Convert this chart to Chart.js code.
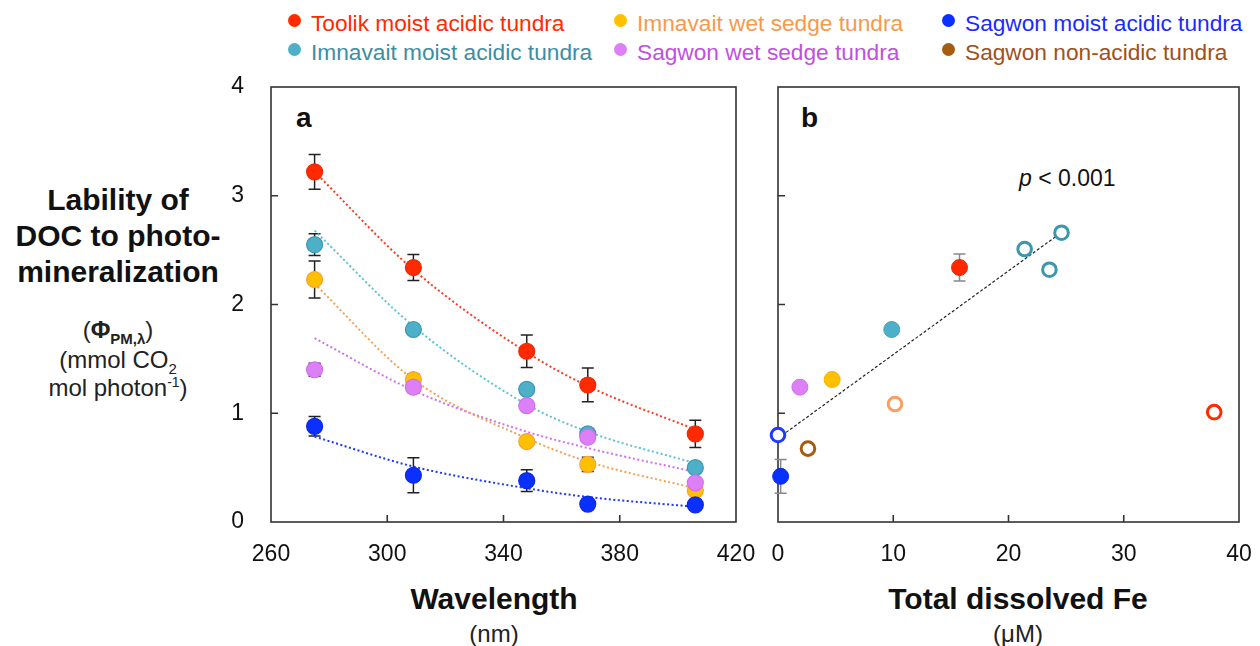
<!DOCTYPE html>
<html lang="en">
<head>
    <meta charset="UTF-8">
    <title>Lability of DOC to photo-mineralization</title>
    <script src="https://cdn.jsdelivr.net/npm/chart.js"></script>
    <style>
        body {
            margin: 0;
            width: 1260px;
            height: 646px;
            background: #fff;
            position: relative;
            overflow: hidden;
            font-family: "Liberation Sans", Arial, Helvetica, sans-serif;
            color: #111;
        }
        .abs { position: absolute; }
        .leg { position: absolute; font-size: 22.7px; white-space: nowrap; line-height: 24px; }
        .leg .dot {
            position: absolute; left: -23px; top: 2.5px;
            width: 13px; height: 13px; border-radius: 50%;
        }
        .ytitle { position: absolute; left: -2px; width: 240px; text-align: center; white-space: nowrap; }
        .ytitle.big { font-weight: bold; font-size: 30px; line-height: 36px; }
        .ytitle.small { font-size: 24px; line-height: 28px; color: #222; }
        .sub { font-size: 15px; position: relative; top: 6px; }
        .sup { font-size: 14px; position: relative; top: -9px; }
        .xtitle { position: absolute; text-align: center; width: 400px; white-space: nowrap; }
        .xtitle.big { font-weight: bold; font-size: 30px; line-height: 34px; }
        .xtitle.small { font-size: 24px; line-height: 28px; color: #222; }
        .panel { position: absolute; font-weight: bold; font-size: 28px; line-height: 30px; }
    </style>
</head>
<body>

<div class="leg" style="left:311px; top:11px; color:#ff2a00;"><span class="dot" style="background:#ff2a00"></span>Toolik moist acidic tundra</div>
<div class="leg" style="left:637px; top:11px; color:#f7994c;"><span class="dot" style="background:#ffc000"></span>Imnavait wet sedge tundra</div>
<div class="leg" style="left:965px; top:11px; color:#1a2aff;"><span class="dot" style="background:#0a30ff"></span>Sagwon moist acidic tundra</div>
<div class="leg" style="left:311px; top:40px; color:#3a8ea5;"><span class="dot" style="background:#4db0c8"></span>Imnavait moist acidic tundra</div>
<div class="leg" style="left:637px; top:40px; color:#c050e0;"><span class="dot" style="background:#dd80f8"></span>Sagwon wet sedge tundra</div>
<div class="leg" style="left:965px; top:40px; color:#a0501a;"><span class="dot" style="background:#a65c10"></span>Sagwon non-acidic tundra</div>

<div class="ytitle big" style="top:182px;">Lability of<br>DOC to photo-<br>mineralization</div>
<div class="ytitle small" style="top:316px;">(<b>Φ</b><b class="sub">PM,λ</b>)</div>
<div class="ytitle small" style="top:346px;">(mmol CO<span class="sub">2</span></div>
<div class="ytitle small" style="top:374px;">mol photon<span class="sup">-1</span>)</div>

<div class="xtitle big" style="left:294px; top:582px;">Wavelength</div>
<div class="xtitle small" style="left:294px; top:620px;">(nm)</div>
<div class="xtitle big" style="left:818px; top:582px;">Total dissolved Fe</div>
<div class="xtitle small" style="left:818px; top:620px;">(μM)</div>

<div class="panel" style="left:296px; top:103px;">a</div>
<div class="panel" style="left:801px; top:103px;">b</div>
<div class="abs" style="left:1019px; top:167px; font-size:23px; line-height:23px;"><i>p</i> &lt; 0.001</div>

<canvas id="panelA" class="abs" style="left:200px; top:60px;" width="560" height="510"></canvas>
<canvas id="panelB" class="abs" style="left:760px; top:60px;" width="500" height="510"></canvas>

<script>
    // panel a: quantum yield vs wavelength
    const wavelengths = [275, 309, 348, 369, 406];
    const toolik = [3.22, 2.34, 1.57, 1.26, 0.81];
    const toolikErr = [0.16, 0.12, 0.15, 0.155, 0.125];
    const imnMoist = [2.55, 1.77, 1.22, 0.81, 0.50];
    const imnMoistErr = [0.1, 0, 0, 0, 0];
    const imnWet = [2.23, 1.31, 0.74, 0.53, 0.29];
    const imnWetErr = [0.17, 0.05, 0, 0.065, 0];
    const sagWet = [1.40, 1.24, 1.07, 0.78, 0.36];
    const sagWetErr = [0.06, 0.05, 0, 0, 0];
    const sagMoist = [0.88, 0.43, 0.38, 0.165, 0.157];
    const sagMoistErr = [0.09, 0.16, 0.1, 0, 0];

    // fitted curves
    const toolikFit = [3.22, 2.32, 1.56, 1.25, 0.85];
    const imnMoistFit = [2.68, 1.80, 1.08, 0.83, 0.54];
    const imnWetFit = [2.19, 1.31, 0.77, 0.555, 0.31];
    const sagWetFit = [1.69, 1.21, 0.83, 0.68, 0.46];
    const sagMoistFit = [0.785, 0.51, 0.31, 0.23, 0.14];

    // panel b: quantum yield vs total dissolved Fe
    const feFilled = [0.23, 1.9, 4.7, 9.87, 15.75];
    const phiFilled = [0.42, 1.24, 1.31, 1.77, 2.34];
    const phiFilledErr = [0.155, 0.04, 0, 0, 0.125];
    const filledColors = ['#0a30ff', '#dd80f8', '#ffc000', '#4db0c8', '#ff2a00'];
    const filledBorders = ['#0a28e8', '#cf70ea', '#f5b000', '#45a5bd', '#f02800'];

    const feOpen = [0.0, 2.6, 10.15, 21.4, 23.55, 24.6, 37.85];
    const phiOpen = [0.80, 0.675, 1.085, 2.51, 2.32, 2.66, 1.01];
    const openColors = ['#1a3aff', '#a65c10', '#f8a060', '#3a98ae', '#3a98ae', '#3a98ae', '#ff2a00'];

    const regFe = [0, 24.3];
    const regPhi = [0.77, 2.64];

    const fontFamily = '"Liberation Sans", Arial, Helvetica, sans-serif';

    const pairs = (xs, ys) => xs.map((x, i) => ({ x: x, y: ys[i] }));

    const errorBars = {
        id: 'errorBars',
        beforeDatasetsDraw(chart) {
            const ctx = chart.ctx;
            const ys = chart.scales.y;
            chart.data.datasets.forEach((ds, i) => {
                if (!ds.errors) return;
                const meta = chart.getDatasetMeta(i);
                ctx.save();
                ctx.strokeStyle = ds.errColor || '#222';
                ctx.lineWidth = 1.5;
                meta.data.forEach((pt, j) => {
                    const e = ds.errors[j];
                    if (!e) return;
                    const v = ds.data[j].y;
                    const top = ys.getPixelForValue(v + e);
                    const bot = ys.getPixelForValue(v - e);
                    ctx.beginPath();
                    ctx.moveTo(pt.x, top); ctx.lineTo(pt.x, bot);
                    ctx.moveTo(pt.x - 6, top); ctx.lineTo(pt.x + 6, top);
                    ctx.moveTo(pt.x - 6, bot); ctx.lineTo(pt.x + 6, bot);
                    ctx.stroke();
                });
                ctx.restore();
            });
        }
    };

    // box around the plot with inward tick marks
    const frame = {
        id: 'frame',
        beforeDatasetsDraw(chart) {
            const { ctx, chartArea: a, scales } = chart;
            ctx.save();
            ctx.strokeStyle = '#333';
            ctx.lineWidth = 1.6;
            ctx.strokeRect(a.left, a.top, a.right - a.left, a.bottom - a.top);
            ctx.beginPath();
            scales.x.ticks.forEach(t => {
                if (t.value <= scales.x.min || t.value >= scales.x.max) return;
                const px = scales.x.getPixelForValue(t.value);
                ctx.moveTo(px, a.bottom); ctx.lineTo(px, a.bottom - 7);
            });
            scales.y.ticks.forEach(t => {
                if (t.value <= scales.y.min || t.value >= scales.y.max) return;
                const py = scales.y.getPixelForValue(t.value);
                ctx.moveTo(a.left, py); ctx.lineTo(a.left + 7, py);
            });
            ctx.stroke();
            ctx.restore();
        }
    };

    function pointSet(xs, ys, errs, fill, border) {
        return {
            type: 'scatter',
            data: pairs(xs, ys),
            errors: errs,
            backgroundColor: fill,
            borderColor: border,
            borderWidth: 1.2,
            pointRadius: 8,
            order: 1
        };
    }

    function fitLine(ys, color) {
        return {
            type: 'line',
            data: pairs(wavelengths, ys),
            borderColor: color,
            borderWidth: 2,
            borderDash: [2, 2.5],
            pointRadius: 0,
            fill: false,
            cubicInterpolationMode: 'monotone',
            order: 2
        };
    }

    // fixed axis sizes; drop the label overhang padding so the plot box lands where we put it
    function noPad(scale) {
        scale.paddingTop = 0; scale.paddingBottom = 0;
        scale.paddingLeft = 0; scale.paddingRight = 0;
    }

    function axes(xmin, xmax, xstep, yWidth, showY) {
        return {
            x: {
                type: 'linear', min: xmin, max: xmax,
                grid: { display: false }, border: { display: false },
                ticks: { stepSize: xstep, padding: 11, color: '#111', maxRotation: 0, font: { family: fontFamily, size: 23 } },
                afterFit(scale) { scale.height = 48; noPad(scale); }
            },
            y: {
                min: 0, max: 4,
                grid: { display: false }, border: { display: false },
                ticks: { display: showY, stepSize: 1, padding: 19, color: '#111', font: { family: fontFamily, size: 23 } },
                afterFit(scale) { scale.width = yWidth; noPad(scale); }
            }
        };
    }

    new Chart(document.getElementById('panelA'), {
        data: {
            datasets: [
                fitLine(toolikFit, '#ff3a1c'),
                fitLine(imnMoistFit, '#5cc2d8'),
                fitLine(imnWetFit, '#f7a050'),
                fitLine(sagWetFit, '#d070f0'),
                fitLine(sagMoistFit, '#1a3aff'),
                pointSet(wavelengths, sagMoist, sagMoistErr, '#0a30ff', '#0a28e8'),
                pointSet(wavelengths, sagWet, sagWetErr, '#dd80f8', '#cf70ea'),
                pointSet(wavelengths, imnWet, imnWetErr, '#ffc000', '#f4a040'),
                pointSet(wavelengths, imnMoist, imnMoistErr, '#4db0c8', '#3a98b0'),
                pointSet(wavelengths, toolik, toolikErr, '#ff2a00', '#f02800')
            ]
        },
        options: {
            responsive: false,
            animation: false,
            clip: false,
            layout: { padding: { top: 27, right: 24, left: 0, bottom: 0 } },
            plugins: { legend: { display: false }, tooltip: { enabled: false } },
            scales: axes(260, 420, 40, 71, true)
        },
        plugins: [frame, errorBars]
    });

    new Chart(document.getElementById('panelB'), {
        data: {
            datasets: [
                {
                    type: 'line',
                    data: pairs(regFe, regPhi),
                    borderColor: '#222',
                    borderWidth: 1.2,
                    borderDash: [3, 2],
                    pointRadius: 0,
                    fill: false,
                    order: 3
                },
                {
                    type: 'scatter',
                    data: pairs(feOpen, phiOpen),
                    backgroundColor: '#fff',
                    borderColor: openColors,
                    borderWidth: 3,
                    pointRadius: 6.8,
                    order: 2
                },
                {
                    type: 'scatter',
                    data: pairs(feFilled, phiFilled),
                    errors: phiFilledErr,
                    errColor: '#888',
                    backgroundColor: filledColors,
                    borderColor: filledBorders,
                    borderWidth: 1,
                    pointRadius: 8,
                    order: 1
                }
            ]
        },
        options: {
            responsive: false,
            animation: false,
            clip: false,
            layout: { padding: { top: 27, right: 21, left: 18, bottom: 0 } },
            plugins: { legend: { display: false }, tooltip: { enabled: false } },
            scales: axes(0, 40, 10, 0, false)
        },
        plugins: [frame, errorBars]
    });
</script>
</body>
</html>
